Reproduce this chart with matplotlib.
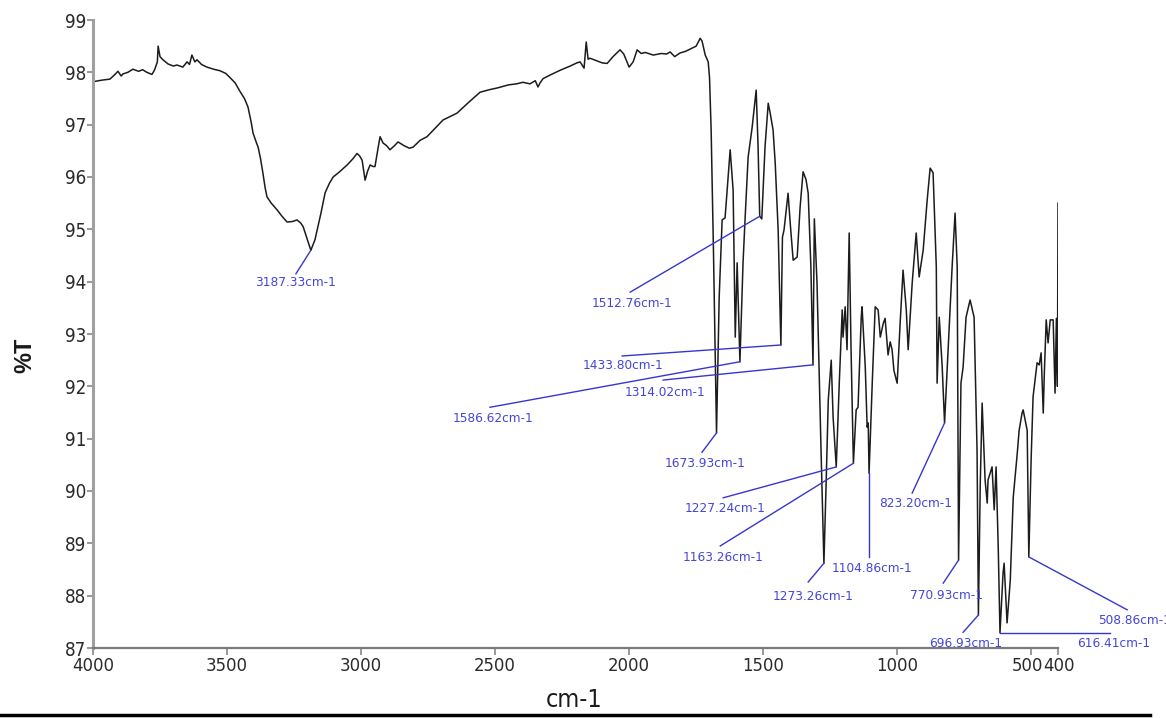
import numpy as np
import matplotlib
matplotlib.use("Agg")
import matplotlib.pyplot as plt
import matplotlib.font_manager as fm
import matplotlib.transforms as mtransforms
from matplotlib.lines import Line2D

# Prefer a narrow face for all chart text
_names = {f.name for f in fm.fontManager.ttflist}
if 'Liberation Sans Narrow' in _names:
    plt.rcParams['font.family'] = ['Liberation Sans Narrow', 'DejaVu Sans']
else:
    plt.rcParams['font.family'] = ['DejaVu Sans']
    plt.rcParams['font.stretch'] = 'condensed'

# FT-IR spectrum: wavenumber (cm-1) and transmittance (%T)
wavenumber = [
    4000, 3968, 3937, 3920, 3907, 3895, 3888, 3870, 3851, 3830, 3815, 3799, 3780, 3770,
    3760, 3757, 3750, 3739, 3720, 3700, 3687, 3665, 3649, 3640, 3631, 3620, 3612, 3595,
    3575, 3550, 3526, 3505, 3489, 3470, 3451, 3435, 3422, 3410, 3403, 3390, 3384, 3375,
    3366, 3358, 3351, 3335, 3313, 3295, 3276, 3255, 3239, 3225, 3216, 3200, 3187.33, 3172,
    3150, 3134, 3118, 3104, 3080, 3052, 3030, 3015, 3005, 2996, 2985, 2975, 2966, 2955,
    2948, 2935, 2929, 2918, 2905, 2892, 2875, 2862, 2840, 2820, 2806, 2780, 2754, 2720,
    2694, 2670, 2642, 2600, 2556, 2520, 2493, 2450, 2420, 2396, 2370, 2350, 2340, 2332,
    2321, 2290, 2257, 2220, 2195, 2183, 2168, 2160, 2153, 2146, 2120, 2100, 2082, 2060,
    2034, 2020, 2000, 1985, 1970, 1955, 1940, 1910, 1880, 1860, 1847, 1830, 1810, 1790,
    1770, 1750, 1735, 1728, 1716, 1705, 1700, 1694, 1685, 1673.93, 1664, 1653, 1642, 1632,
    1623, 1612, 1608, 1604, 1597, 1586.62, 1575, 1567, 1556, 1541, 1526, 1519, 1512.76, 1505,
    1493, 1481, 1473, 1463, 1455, 1444, 1433.80, 1428, 1422, 1407, 1399, 1388, 1373, 1362,
    1351, 1340, 1332, 1322, 1314.02, 1309, 1299, 1284, 1273.26, 1265, 1257, 1246, 1239, 1227.24,
    1216, 1205, 1202, 1194, 1187, 1179, 1172, 1163.26, 1153, 1146, 1134, 1131, 1119, 1112,
    1108, 1104.86, 1093, 1082, 1071, 1063, 1052, 1045, 1034, 1026, 1019, 1012, 1007, 1000,
    989, 978, 966, 959, 944, 929, 918, 903, 888, 877, 866, 854, 851, 843,
    832, 823.20, 810, 795, 784, 776, 770.93, 762, 754, 743, 728, 713, 702, 696.93,
    690, 683, 672, 664, 661, 646, 638, 631, 623, 616.41, 605, 601, 590, 578,
    567, 552, 545, 534, 530, 515, 508.86, 500, 493, 478, 470, 463, 455, 451,
    444, 437, 429, 418, 411, 406, 402, 400,
]
transmittance = [
    97.82, 97.85, 97.87, 97.95, 98.02, 97.93, 97.97, 98.00, 98.06, 98.02, 98.05, 98.00, 97.96, 98.05,
    98.20, 98.50, 98.30, 98.24, 98.16, 98.12, 98.14, 98.10, 98.20, 98.15, 98.33, 98.20, 98.24, 98.15,
    98.10, 98.06, 98.03, 97.98, 97.90, 97.80, 97.63, 97.50, 97.34, 97.05, 96.84, 96.65, 96.57, 96.35,
    96.07, 95.80, 95.62, 95.50, 95.37, 95.25, 95.14, 95.15, 95.18, 95.12, 95.05, 94.80, 94.60, 94.80,
    95.30, 95.70, 95.88, 96.00, 96.10, 96.23, 96.35, 96.45, 96.40, 96.32, 95.94, 96.12, 96.23, 96.20,
    96.20, 96.60, 96.77, 96.65, 96.60, 96.52, 96.60, 96.67, 96.60, 96.55, 96.57, 96.70, 96.77, 96.95,
    97.09, 97.15, 97.22, 97.42, 97.62, 97.67, 97.70, 97.76, 97.78, 97.81, 97.78, 97.84, 97.72, 97.80,
    97.88, 97.96, 98.04, 98.12, 98.18, 98.20, 98.08, 98.58, 98.25, 98.27, 98.22, 98.18, 98.17, 98.30,
    98.43, 98.35, 98.10, 98.20, 98.43, 98.36, 98.38, 98.33, 98.36, 98.35, 98.39, 98.30, 98.37, 98.40,
    98.45, 98.50, 98.65, 98.60, 98.33, 98.20, 97.90, 96.90, 94.50, 91.11, 93.70, 95.18, 95.22, 95.90,
    96.52, 95.75, 94.36, 92.94, 94.36, 92.47, 94.36, 95.24, 96.38, 96.95, 97.66, 96.60, 95.25, 95.20,
    96.57, 97.41, 97.20, 96.90, 96.27, 94.99, 92.79, 94.85, 94.99, 95.69, 95.12, 94.41, 94.47, 95.43,
    96.10, 95.95, 95.69, 94.30, 92.41, 95.20, 93.97, 90.78, 88.62, 90.15, 91.74, 92.50, 91.41, 90.46,
    92.06, 93.46, 92.94, 93.52, 92.70, 94.93, 92.70, 90.53, 91.55, 91.60, 93.32, 93.52, 92.37, 91.22,
    91.30, 90.34, 92.06, 93.52, 93.46, 92.94, 93.20, 93.30, 92.60, 92.85, 92.70, 92.30, 92.20, 92.06,
    93.20, 94.22, 93.46, 92.70, 93.97, 94.93, 94.09, 94.60, 95.56, 96.17, 96.08, 94.28, 92.06, 93.32,
    92.37, 91.30, 92.70, 94.28, 95.31, 94.28, 88.68, 92.06, 92.37, 93.32, 93.65, 93.32, 90.78, 87.63,
    90.15, 91.68, 90.21, 89.77, 90.21, 90.46, 89.64, 90.46, 88.93, 87.29, 88.43, 88.62, 87.48, 88.30,
    89.88, 90.72, 91.16, 91.49, 91.55, 91.16, 88.74, 90.65, 91.80, 92.45, 92.41, 92.64, 91.49, 92.25,
    93.27, 92.83, 93.27, 93.27, 91.87, 93.30, 92.00, 95.50,
]

# Labelled band positions (cm-1)
peak_wavenumbers = [
    3187.33, 1512.76, 1433.80, 1586.62, 1314.02, 1673.93, 1227.24, 1163.26,
    1273.26, 1104.86, 823.20, 770.93, 696.93, 616.41, 508.86,
]

# Label placement: (text x, text y, leader end x, leader end y) in data units
label_layout = [
    (3395, 93.99, 3243, 94.15),
    (2138, 93.59, 1996, 93.80),
    (2172, 92.39, 2026, 92.58),
    (2660, 91.38, 2519, 91.60),
    (2015, 91.89, 1873, 92.12),
    (1869, 90.53, 1728, 90.74),
    (1791, 89.66, 1649, 89.87),
    (1802, 88.72, 1660, 88.95),
    (1466, 87.99, 1332, 88.26),
    (1243, 88.51, 1104.86, 88.74),
    (1067, 89.77, 944, 89.96),
    (951, 88.01, 828, 88.24),
    (881, 87.09, 754, 87.30),
    (328, 87.08, 205, None),
    (250, 87.52, 142, 87.73),
]

x_ticks = [4000, 3500, 3000, 2500, 2000, 1500, 1000, 500, 400]
y_ticks = list(range(87, 100))

W, H = 1166, 718
fig = plt.figure(figsize=(W / 100, H / 100), dpi=100)
ax = fig.add_axes([93 / W, 1 - 648 / H, (1058 - 93) / W, (648 - 20) / H])

ax.plot(wavenumber, transmittance, color='#1c1c1c', lw=1.1)
ax.set_xlim(4000, 400)
ax.set_ylim(87, 99)

ax.set_xticks(x_ticks)
ax.set_xticklabels([str(t) for t in x_ticks])
ax.set_yticks(y_ticks)
ax.set_yticklabels([str(t) for t in y_ticks])

for side in ('top', 'right'):
    ax.spines[side].set_visible(False)
ax.spines['left'].set_color('#a0a0a0')
ax.spines['left'].set_linewidth(2.2)
ax.spines['bottom'].set_color('#7a7a7a')
ax.spines['bottom'].set_linewidth(1.6)

ax.tick_params(axis='y', direction='out', length=4.5, width=1.2, color='#888888',
               pad=0.5, labelsize=13.5, labelcolor='#2a2a2a')
ax.tick_params(axis='x', direction='out', length=5, width=1.2, color='#888888',
               pad=1.5, labelsize=13.2, labelcolor='#2a2a2a')

# The 500 and 400 labels sit side by side at the right end of the axis
for lab, dx in zip(ax.get_xticklabels()[-2:], (-4, 1)):
    lab.set_transform(lab.get_transform()
                      + mtransforms.ScaledTranslation(dx / 100, 0, fig.dpi_scale_trans))

# Band annotations
wn_inc = np.array(wavenumber[::-1], dtype=float)
tr_inc = np.array(transmittance[::-1], dtype=float)
line_color = '#3636cf'
text_color = '#4646d6'
for pw, (tx, ty, lx, ly) in zip(peak_wavenumbers, label_layout):
    pt = float(np.interp(pw, wn_inc, tr_inc))
    if ly is None:
        ly = pt
    ax.plot([pw, lx], [pt, ly], color=line_color, lw=1.0, clip_on=False)
    ax.text(tx, ty, f"{pw:.2f}cm-1", color=text_color, fontsize=9.7,
            ha='left', va='center', clip_on=False)

fig.text(574 / W, 1 - 700 / H, 'cm-1', ha='center', va='center',
         fontsize=18, color='#1a1a1a')
fig.text(25 / W, 1 - 355 / H, '%T', ha='center', va='center', rotation=90,
         fontsize=17, fontweight='bold', color='#1a1a1a',
         family=['Liberation Sans', 'DejaVu Sans'], stretch='normal')

fig.add_artist(Line2D([0, 1150 / W], [1 - 715 / H, 1 - 715 / H],
                      color='black', lw=2.5))

fig.savefig('out.png', dpi=100)
